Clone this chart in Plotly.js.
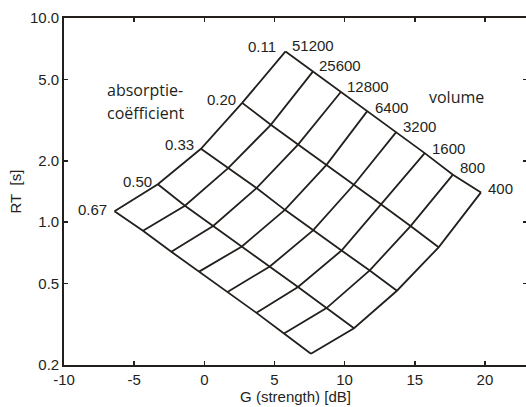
<!DOCTYPE html>
<html><head><meta charset="utf-8">
<script src="https://cdn.plot.ly/plotly-3.0.1.min.js"></script>
<style>html,body{margin:0;padding:0;overflow:hidden;background:#fff}#chart{width:528px;height:407px}</style>
</head><body><div id="chart"></div>
<script>
// Volume values (m3), same order as the points in every series below
const volumes = ['51200', '25600', '12800', '6400', '3200', '1600', '800', '400'];
// Absorption coefficients
const absorption = ['0.11', '0.20', '0.33', '0.50', '0.67'];

// G (strength, dB) and RT (s) for each absorption coefficient, ordered by volume
const g_011  = [5.79, 7.75, 9.73, 11.60, 13.69, 15.71, 17.72, 19.72];
const rt_011 = [6.86, 5.48, 4.34, 3.49, 2.77, 2.18, 1.71, 1.40];
const g_020  = [2.70, 4.74, 6.68, 8.71, 10.67, 12.61, 14.70, 16.70];
const rt_020 = [3.84, 3.00, 2.40, 1.91, 1.53, 1.22, 0.958, 0.754];
const g_033  = [-0.24, 1.70, 3.72, 5.74, 7.75, 9.78, 11.79, 13.73];
const rt_033 = [2.29, 1.84, 1.47, 1.15, 0.912, 0.727, 0.581, 0.462];
const g_050  = [-3.31, -1.38, 0.63, 2.68, 4.67, 6.68, 8.71, 10.67];
const rt_050 = [1.535, 1.205, 0.958, 0.761, 0.607, 0.482, 0.380, 0.303];
const g_067  = [-6.40, -4.37, -2.35, -0.37, 1.68, 3.72, 5.68, 7.60];
const rt_067 = [1.132, 0.909, 0.717, 0.573, 0.457, 0.360, 0.285, 0.227];

const xTicks = [-10, -5, 0, 5, 10, 15, 20];
const yTicks = [0.2, 0.5, 1, 2, 5, 10];
const yTickText = ['0.2', '0.5', '1.0', '2.0', '5.0', '10.0'];

const G = [g_011, g_020, g_033, g_050, g_067];
const RT = [rt_011, rt_020, rt_033, rt_050, rt_067];

const ink = '#231f1c';
const lineStyle = {color: ink, width: 1.8};
const traces = [];
// constant absorption lines
G.forEach((gs, i) => traces.push({x: gs, y: RT[i], mode: 'lines', line: lineStyle, hoverinfo: 'skip'}));
// constant volume lines
volumes.forEach((v, j) => traces.push({
  x: G.map(gs => gs[j]), y: RT.map(rs => rs[j]), mode: 'lines', line: lineStyle, hoverinfo: 'skip'
}));

const numFont = {family: 'Liberation Sans, Arial, sans-serif', size: 15, color: ink};
const wordFont = {family: 'Open Sans, sans-serif', size: 16, color: ink};
const absShift = [[-8, 5], [-4, 3], [-5, 4], [-4, 3], [-6, 2]];
const volShift = [[4, 6], [4, 6], [4, 6], [6, 4], [5, 5], [5, 5], [5, 7], [5, 4]];

const annotations = [];
absorption.forEach((a, i) => annotations.push({
  x: G[i][0], y: Math.log10(RT[i][0]), text: a, showarrow: false,
  xanchor: 'right', yanchor: 'middle', xshift: absShift[i][0], yshift: absShift[i][1], font: numFont
}));
volumes.forEach((v, j) => annotations.push({
  x: g_011[j], y: Math.log10(rt_011[j]), text: v, showarrow: false,
  xanchor: 'left', yanchor: 'middle', xshift: volShift[j][0], yshift: volShift[j][1], font: numFont
}));
annotations.push({xref: 'paper', yref: 'paper', x: 41 / 463, y: (365 - 90) / 347, text: 'absorptie-',
  showarrow: false, xanchor: 'left', yanchor: 'middle', font: wordFont});
annotations.push({xref: 'paper', yref: 'paper', x: 41 / 463, y: (365 - 113) / 347, text: 'coëfficient',
  showarrow: false, xanchor: 'left', yanchor: 'middle', font: wordFont});
annotations.push({xref: 'paper', yref: 'paper', x: 363 / 463, y: (365 - 97) / 347, text: 'volume',
  showarrow: false, xanchor: 'left', yanchor: 'middle', font: wordFont});

const axisCommon = {
  showline: true, linecolor: ink, linewidth: 1.8, mirror: 'ticks',
  ticks: 'inside', ticklen: 4, tickwidth: 1.5, tickcolor: ink,
  showgrid: false, zeroline: false, tickfont: numFont
};

const layout = {
  width: 528, height: 407,
  margin: {l: 64, r: 1, t: 18, b: 42},
  paper_bgcolor: '#fff', plot_bgcolor: '#fff',
  showlegend: false,
  xaxis: Object.assign({}, axisCommon, {
    range: [-10, 23], tickvals: xTicks, ticktext: xTicks.map(String),
    title: {text: 'G (strength) [dB]', font: numFont, standoff: 4}
  }),
  yaxis: Object.assign({}, axisCommon, {
    type: 'log', range: [Math.log10(0.2), 1], tickvals: yTicks, ticktext: yTickText,
    title: {text: 'RT&nbsp; [s]', font: numFont, standoff: 5}
  }),
  annotations: annotations
};

Plotly.newPlot('chart', traces, layout, {staticPlot: true, displayModeBar: false});
</script></body></html>
